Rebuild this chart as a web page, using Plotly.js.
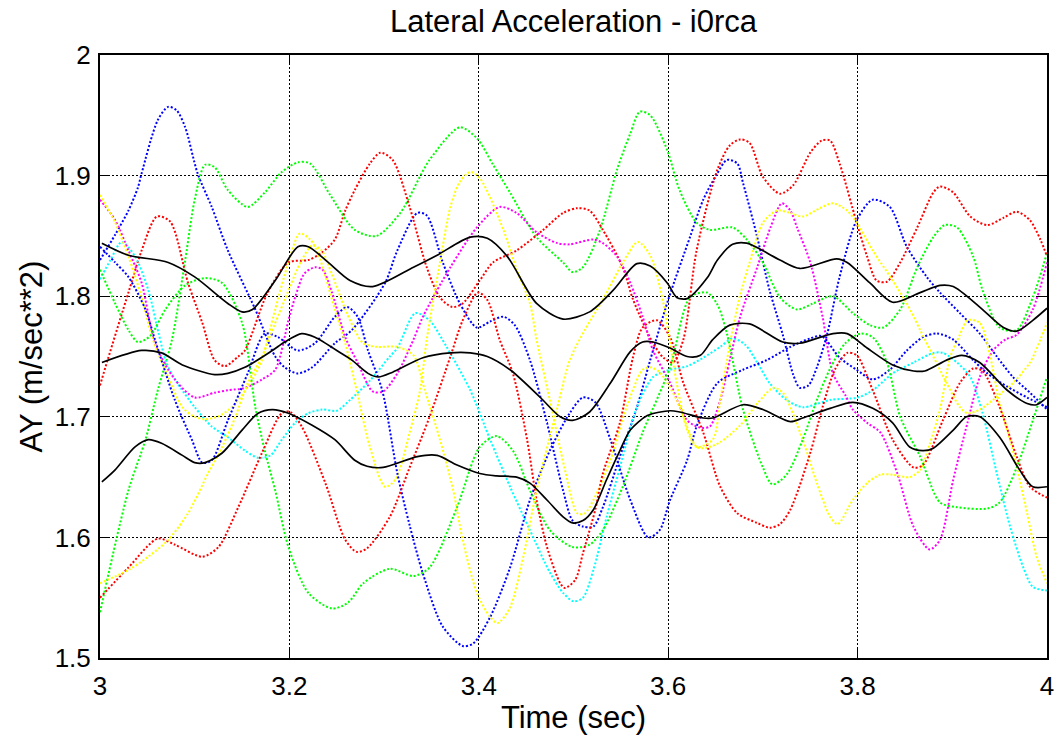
<!DOCTYPE html>
<html>
<head>
<meta charset="utf-8">
<script src="https://cdn.plot.ly/plotly-3.0.1.min.js"></script>
<style>html,body{margin:0;padding:0;background:#fff;}#chart{width:1060px;height:746px;}</style>
</head>
<body>
<div id="chart"></div>
<script>
// ---- data (time in sec, AY in m/sec**2) ----
const blue1T = [3.000,3.016,3.030,3.040,3.044,3.061,3.072,3.081,3.090,3.103,3.118,3.135,3.164,3.185,3.195,3.209,3.224,3.248,3.266,3.301,3.314,3.335,3.345,3.362,3.380,3.398,3.412,3.426,3.438,3.454,3.472,3.489,3.499,3.510,3.521,3.531,3.549,3.567,3.581,3.600,3.623,3.637,3.652,3.662,3.673,3.679,3.694,3.707,3.721,3.732,3.739,3.748,3.757,3.768,3.781,3.799,3.816,3.834,3.852,3.873,3.887,3.908,3.929,3.947,3.964,3.982,4.000];
const blue1V = [1.830,1.851,1.871,1.890,1.902,1.946,1.957,1.954,1.940,1.902,1.874,1.838,1.789,1.750,1.741,1.736,1.741,1.761,1.772,1.811,1.838,1.869,1.867,1.828,1.794,1.774,1.779,1.783,1.776,1.747,1.695,1.639,1.614,1.609,1.609,1.625,1.667,1.708,1.747,1.797,1.849,1.880,1.902,1.913,1.910,1.894,1.849,1.805,1.768,1.735,1.724,1.726,1.741,1.769,1.816,1.863,1.880,1.874,1.841,1.816,1.803,1.786,1.769,1.750,1.733,1.720,1.706];

const blue2T = [3.000,3.016,3.030,3.048,3.058,3.079,3.097,3.108,3.118,3.135,3.156,3.174,3.188,3.209,3.227,3.248,3.261,3.272,3.283,3.298,3.314,3.327,3.341,3.362,3.383,3.394,3.412,3.433,3.454,3.475,3.496,3.510,3.523,3.539,3.560,3.579,3.591,3.602,3.620,3.630,3.652,3.679,3.704,3.729,3.750,3.762,3.781,3.799,3.816,3.834,3.852,3.869,3.884,3.901,3.922,3.937,3.958,3.979,4.000];
const blue2V = [1.841,1.828,1.816,1.789,1.764,1.714,1.681,1.662,1.664,1.697,1.736,1.769,1.766,1.755,1.761,1.783,1.791,1.783,1.755,1.722,1.653,1.610,1.570,1.526,1.510,1.512,1.534,1.575,1.631,1.672,1.703,1.716,1.712,1.681,1.631,1.600,1.606,1.631,1.664,1.692,1.728,1.739,1.747,1.758,1.765,1.767,1.749,1.739,1.731,1.739,1.755,1.766,1.769,1.764,1.747,1.736,1.725,1.716,1.708];

const greenAT = [3.000,3.030,3.048,3.061,3.076,3.090,3.100,3.111,3.121,3.135,3.156,3.174,3.192,3.209,3.222,3.243,3.269,3.292,3.317,3.348,3.380,3.398,3.415,3.433,3.461,3.489,3.499,3.510,3.528,3.546,3.560,3.570,3.581,3.599,3.612,3.630,3.644,3.668,3.683,3.700,3.718,3.736,3.753,3.774,3.795,3.813,3.827,3.845,3.863,3.880,3.892,3.905,3.922,3.932,3.950,3.968,3.985,4.000];
const greenAV = [1.538,1.639,1.681,1.722,1.764,1.830,1.880,1.909,1.907,1.888,1.874,1.886,1.903,1.911,1.910,1.884,1.855,1.850,1.869,1.913,1.940,1.931,1.909,1.886,1.849,1.828,1.820,1.824,1.855,1.905,1.935,1.953,1.950,1.921,1.888,1.861,1.855,1.857,1.847,1.828,1.799,1.789,1.794,1.800,1.786,1.776,1.774,1.789,1.824,1.849,1.859,1.857,1.833,1.805,1.774,1.772,1.799,1.836];

const greenBT = [3.000,3.016,3.030,3.040,3.053,3.069,3.090,3.111,3.129,3.150,3.164,3.174,3.185,3.199,3.220,3.245,3.262,3.278,3.306,3.331,3.348,3.377,3.401,3.419,3.436,3.454,3.475,3.499,3.517,3.531,3.552,3.573,3.602,3.623,3.641,3.652,3.662,3.679,3.700,3.710,3.725,3.742,3.757,3.771,3.787,3.803,3.816,3.831,3.845,3.866,3.887,3.905,3.937,3.950,3.968,3.985,4.000];
const greenBV = [1.822,1.794,1.772,1.762,1.767,1.789,1.809,1.815,1.811,1.778,1.708,1.672,1.639,1.592,1.554,1.541,1.546,1.562,1.574,1.568,1.575,1.625,1.675,1.684,1.672,1.639,1.606,1.592,1.594,1.606,1.642,1.687,1.741,1.799,1.803,1.793,1.769,1.706,1.658,1.644,1.652,1.681,1.714,1.740,1.761,1.769,1.766,1.745,1.700,1.667,1.629,1.625,1.624,1.629,1.658,1.697,1.733];

const redAT = [3.000,3.008,3.030,3.044,3.060,3.074,3.093,3.108,3.121,3.132,3.146,3.153,3.177,3.199,3.220,3.234,3.248,3.259,3.269,3.285,3.296,3.309,3.327,3.345,3.359,3.372,3.383,3.401,3.415,3.440,3.468,3.489,3.504,3.517,3.531,3.552,3.563,3.584,3.595,3.605,3.616,3.630,3.652,3.665,3.676,3.686,3.700,3.718,3.732,3.750,3.762,3.771,3.781,3.799,3.810,3.820,3.831,3.845,3.863,3.880,3.887,3.901,3.919,3.937,3.954,3.968,3.982,3.993,4.000];
const redAV = [1.726,1.747,1.803,1.838,1.866,1.862,1.811,1.778,1.747,1.742,1.750,1.755,1.803,1.828,1.830,1.836,1.847,1.871,1.888,1.910,1.919,1.913,1.874,1.824,1.799,1.791,1.794,1.813,1.828,1.838,1.855,1.869,1.873,1.871,1.855,1.824,1.797,1.761,1.749,1.745,1.764,1.838,1.905,1.925,1.930,1.927,1.899,1.885,1.892,1.919,1.929,1.929,1.910,1.861,1.833,1.813,1.812,1.828,1.857,1.886,1.891,1.886,1.866,1.859,1.865,1.870,1.863,1.847,1.833];

const redBT = [3.000,3.030,3.061,3.079,3.108,3.125,3.146,3.171,3.192,3.201,3.213,3.238,3.259,3.271,3.282,3.306,3.327,3.348,3.370,3.383,3.399,3.409,3.422,3.436,3.451,3.461,3.472,3.486,3.491,3.502,3.510,3.523,3.531,3.549,3.563,3.573,3.588,3.602,3.616,3.637,3.655,3.673,3.694,3.707,3.718,3.729,3.750,3.763,3.776,3.789,3.799,3.816,3.837,3.859,3.869,3.890,3.908,3.922,3.932,3.950,3.968,3.982,4.000];
const redBV = [1.550,1.575,1.599,1.594,1.584,1.592,1.625,1.670,1.703,1.704,1.692,1.645,1.598,1.588,1.591,1.617,1.658,1.700,1.750,1.780,1.803,1.797,1.764,1.736,1.681,1.631,1.592,1.562,1.558,1.565,1.587,1.623,1.653,1.695,1.750,1.774,1.780,1.766,1.728,1.687,1.642,1.620,1.612,1.608,1.611,1.623,1.670,1.708,1.739,1.753,1.751,1.722,1.681,1.658,1.660,1.697,1.728,1.740,1.738,1.708,1.667,1.642,1.633];

const yellow1T = [3.000,3.016,3.030,3.044,3.055,3.072,3.087,3.100,3.111,3.127,3.143,3.161,3.171,3.177,3.185,3.199,3.211,3.222,3.230,3.248,3.259,3.271,3.285,3.301,3.312,3.327,3.338,3.345,3.359,3.370,3.380,3.391,3.401,3.426,3.440,3.454,3.461,3.475,3.491,3.504,3.512,3.521,3.539,3.556,3.573,3.581,3.591,3.609,3.630,3.639,3.655,3.676,3.694,3.711,3.721,3.742,3.757,3.771,3.779,3.795,3.810,3.824,3.837,3.855,3.866,3.876,3.887,3.898,3.908,3.916,3.929,3.940,3.950,3.964,3.979,3.989,4.000];
const yellow1V = [1.884,1.861,1.833,1.799,1.766,1.733,1.708,1.700,1.698,1.701,1.711,1.731,1.747,1.764,1.789,1.828,1.852,1.847,1.836,1.789,1.761,1.722,1.675,1.642,1.648,1.687,1.722,1.764,1.828,1.874,1.895,1.903,1.898,1.855,1.822,1.794,1.764,1.714,1.656,1.620,1.620,1.631,1.664,1.708,1.739,1.741,1.737,1.714,1.675,1.674,1.679,1.693,1.711,1.724,1.720,1.681,1.645,1.617,1.611,1.631,1.645,1.652,1.652,1.650,1.656,1.677,1.706,1.750,1.768,1.780,1.778,1.750,1.711,1.672,1.620,1.584,1.562];

const yellow2T = [3.000,3.030,3.051,3.072,3.093,3.114,3.129,3.143,3.156,3.171,3.180,3.195,3.213,3.224,3.234,3.245,3.259,3.269,3.278,3.292,3.314,3.331,3.343,3.359,3.373,3.383,3.398,3.412,3.420,3.433,3.447,3.461,3.483,3.496,3.512,3.531,3.552,3.568,3.581,3.595,3.602,3.609,3.620,3.630,3.647,3.655,3.665,3.676,3.686,3.700,3.715,3.729,3.742,3.760,3.774,3.789,3.799,3.816,3.837,3.852,3.866,3.880,3.894,3.908,3.916,3.929,3.943,3.964,3.982,3.993,4.000];
const yellow2V = [1.562,1.573,1.584,1.598,1.620,1.653,1.675,1.700,1.728,1.750,1.768,1.797,1.830,1.842,1.838,1.818,1.789,1.772,1.761,1.758,1.758,1.751,1.722,1.681,1.639,1.598,1.554,1.534,1.529,1.542,1.584,1.639,1.708,1.747,1.772,1.797,1.828,1.845,1.834,1.794,1.761,1.728,1.689,1.675,1.681,1.714,1.760,1.801,1.828,1.861,1.871,1.869,1.866,1.873,1.877,1.871,1.861,1.838,1.813,1.794,1.772,1.750,1.728,1.708,1.703,1.706,1.714,1.728,1.745,1.764,1.778];

const magentaT = [3.000,3.016,3.030,3.044,3.058,3.079,3.100,3.121,3.135,3.153,3.171,3.185,3.199,3.206,3.216,3.227,3.235,3.245,3.259,3.272,3.288,3.299,3.314,3.331,3.341,3.370,3.398,3.422,3.440,3.461,3.483,3.496,3.521,3.531,3.546,3.560,3.573,3.584,3.602,3.620,3.634,3.644,3.655,3.665,3.676,3.694,3.708,3.720,3.729,3.736,3.750,3.763,3.774,3.787,3.795,3.810,3.824,3.842,3.859,3.876,3.887,3.901,3.916,3.929,3.943,3.956,3.968,3.985,4.000];
const magentaV = [1.880,1.863,1.838,1.811,1.761,1.731,1.716,1.720,1.722,1.724,1.731,1.739,1.780,1.799,1.819,1.824,1.822,1.803,1.766,1.745,1.721,1.721,1.736,1.764,1.783,1.824,1.857,1.874,1.869,1.853,1.844,1.843,1.847,1.844,1.833,1.811,1.783,1.755,1.728,1.697,1.691,1.692,1.714,1.747,1.783,1.824,1.857,1.877,1.871,1.857,1.828,1.783,1.736,1.718,1.706,1.695,1.687,1.653,1.609,1.590,1.598,1.648,1.695,1.733,1.755,1.764,1.768,1.789,1.828];

const cyanT = [3.000,3.011,3.023,3.037,3.051,3.062,3.070,3.080,3.100,3.118,3.135,3.153,3.167,3.180,3.192,3.206,3.220,3.235,3.250,3.264,3.285,3.306,3.314,3.333,3.348,3.366,3.391,3.412,3.433,3.454,3.475,3.489,3.500,3.510,3.521,3.535,3.549,3.567,3.584,3.602,3.620,3.637,3.655,3.668,3.681,3.694,3.707,3.725,3.742,3.771,3.800,3.816,3.837,3.859,3.880,3.890,3.905,3.919,3.932,3.947,3.961,3.975,3.985,4.000];
const cyanV = [1.814,1.830,1.845,1.833,1.805,1.769,1.745,1.730,1.708,1.692,1.683,1.672,1.666,1.668,1.681,1.695,1.703,1.706,1.705,1.714,1.730,1.750,1.757,1.786,1.780,1.758,1.722,1.681,1.642,1.606,1.571,1.554,1.547,1.550,1.573,1.617,1.658,1.708,1.733,1.739,1.742,1.749,1.758,1.765,1.760,1.745,1.728,1.714,1.708,1.714,1.716,1.722,1.736,1.745,1.753,1.753,1.745,1.733,1.703,1.653,1.609,1.575,1.559,1.556];

const upperT = [3.002,3.030,3.072,3.100,3.135,3.150,3.161,3.185,3.209,3.220,3.241,3.264,3.288,3.331,3.356,3.391,3.409,3.430,3.461,3.489,3.517,3.542,3.567,3.581,3.599,3.609,3.620,3.641,3.652,3.668,3.683,3.718,3.739,3.778,3.789,3.813,3.837,3.866,3.887,3.901,3.929,3.954,3.968,3.985,4.000];
const upperV = [1.844,1.834,1.828,1.816,1.794,1.787,1.789,1.813,1.841,1.841,1.828,1.813,1.808,1.824,1.834,1.849,1.848,1.833,1.794,1.781,1.787,1.805,1.827,1.825,1.811,1.799,1.798,1.815,1.830,1.843,1.844,1.830,1.823,1.831,1.828,1.811,1.795,1.803,1.809,1.808,1.791,1.774,1.771,1.780,1.790];

const meanT = [3.002,3.044,3.065,3.087,3.121,3.135,3.153,3.182,3.195,3.213,3.227,3.256,3.266,3.283,3.294,3.309,3.341,3.370,3.391,3.409,3.433,3.465,3.486,3.499,3.517,3.539,3.560,3.573,3.584,3.602,3.620,3.634,3.647,3.665,3.686,3.721,3.739,3.774,3.789,3.810,3.837,3.859,3.871,3.894,3.910,3.929,3.958,3.979,3.989,4.000];
const meanV = [1.745,1.755,1.753,1.743,1.735,1.736,1.741,1.755,1.762,1.769,1.766,1.752,1.747,1.736,1.733,1.737,1.749,1.753,1.753,1.750,1.739,1.716,1.700,1.697,1.704,1.728,1.754,1.762,1.762,1.757,1.750,1.751,1.764,1.776,1.777,1.762,1.761,1.769,1.769,1.757,1.743,1.738,1.738,1.747,1.751,1.745,1.722,1.711,1.710,1.716];

const lowerT = [3.002,3.016,3.037,3.051,3.065,3.087,3.100,3.111,3.129,3.150,3.167,3.182,3.199,3.224,3.248,3.269,3.282,3.299,3.335,3.356,3.377,3.401,3.419,3.440,3.454,3.472,3.489,3.499,3.510,3.521,3.535,3.549,3.560,3.578,3.602,3.612,3.637,3.647,3.679,3.700,3.729,3.742,3.771,3.795,3.816,3.837,3.855,3.869,3.880,3.901,3.915,3.929,3.950,3.971,3.985,4.000];
const lowerV = [1.646,1.656,1.675,1.681,1.678,1.668,1.662,1.662,1.670,1.689,1.703,1.706,1.703,1.693,1.681,1.664,1.659,1.658,1.667,1.668,1.660,1.653,1.651,1.650,1.645,1.631,1.617,1.612,1.614,1.623,1.648,1.672,1.689,1.701,1.705,1.704,1.699,1.699,1.710,1.706,1.696,1.699,1.707,1.712,1.707,1.695,1.675,1.672,1.674,1.689,1.700,1.700,1.683,1.656,1.642,1.642];

const xTicks = [3, 3.2, 3.4, 3.6, 3.8, 4];
const yTicks = [1.5, 1.6, 1.7, 1.8, 1.9, 2];
const titleText = 'Lateral Acceleration - i0rca';
const xTitle = 'Time (sec)';
const yTitle = 'AY (m/sec**2)';

// ---- build traces ----
const dotted = [
  [blue1T, blue1V, '#0000ff'],
  [greenAT, greenAV, '#00ff00'],
  [redAT, redAV, '#ff0000'],
  [cyanT, cyanV, '#00ffff'],
  [magentaT, magentaV, '#ff00ff'],
  [yellow1T, yellow1V, '#ffff00'],
  [blue2T, blue2V, '#0000ff'],
  [greenBT, greenBV, '#00ff00'],
  [redBT, redBV, '#ff0000'],
  [yellow2T, yellow2V, '#ffff00']
];
const solid = [[upperT, upperV], [meanT, meanV], [lowerT, lowerV]];

const traces = [];
dotted.forEach(function (d) {
  traces.push({
    x: d[0], y: d[1], type: 'scatter', mode: 'lines', hoverinfo: 'skip',
    line: {color: d[2], width: 2, dash: '2px,2px', shape: 'spline', smoothing: 0.8}
  });
});
solid.forEach(function (d) {
  traces.push({
    x: d[0], y: d[1], type: 'scatter', mode: 'lines', hoverinfo: 'skip',
    line: {color: '#000000', width: 1.7, shape: 'spline', smoothing: 0.8}
  });
});

const font = 'Liberation Sans, Arial, Helvetica, sans-serif';
const axisCommon = {
  showline: true, linecolor: '#000', linewidth: 2, mirror: 'allticks',
  ticks: 'inside', ticklen: 10, tickwidth: 1, tickcolor: '#000',
  showgrid: true, gridcolor: '#000', gridwidth: 1, griddash: '2px,2px',
  zeroline: false, tickfont: {family: font, size: 26, color: '#000'},
  fixedrange: true
};

const layout = {
  width: 1060, height: 746,
  paper_bgcolor: '#fff', plot_bgcolor: '#fff',
  showlegend: false,
  margin: {l: 100, r: 13, t: 55, b: 88, pad: 0},
  title: {text: titleText, font: {family: font, size: 31, color: '#000'},
          x: 0.5, xref: 'paper', xanchor: 'center', y: 0.972, yref: 'container', yanchor: 'middle'},
  xaxis: Object.assign({}, axisCommon, {
    range: [3, 4], tickmode: 'array', tickvals: xTicks,
    ticktext: xTicks.map(String), ticklabelstandoff: 4,
    title: {text: xTitle, font: {family: font, size: 31, color: '#000'}, standoff: 6}
  }),
  yaxis: Object.assign({}, axisCommon, {
    range: [1.5, 2], tickmode: 'array', tickvals: yTicks,
    ticktext: yTicks.map(String), ticklabelstandoff: 2,
    title: {text: yTitle, font: {family: font, size: 31, color: '#000'}, standoff: 3}
  })
};

Plotly.newPlot('chart', traces, layout, {staticPlot: true, displayModeBar: false});
</script>
</body>
</html>
